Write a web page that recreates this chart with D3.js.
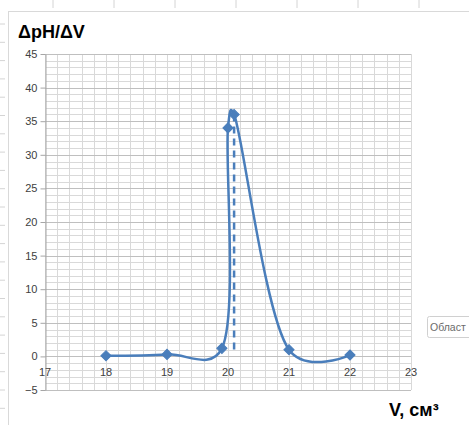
<!DOCTYPE html>
<html>
<head>
<meta charset="utf-8">
<script src="https://cdn.jsdelivr.net/npm/d3@7"></script>
<style>
  html, body { margin: 0; padding: 0; background: #fff; overflow: hidden; }
  svg { display: block; font-family: "Liberation Sans", Arial, sans-serif; }
</style>
</head>
<body>
<svg id="chart" width="469" height="425"></svg>
<script>
// data
const volumes = [18, 19, 19.9, 20, 20.1, 21, 22];
const dpHdV   = [0.1, 0.3, 1.2, 34, 36, 1, 0.2];
const xTicks  = [17, 18, 19, 20, 21, 22, 23];
const yTicks  = [-5, 0, 5, 10, 15, 20, 25, 30, 35, 40, 45];
const eqPoint = { v: 20.1, top: 36, bottom: 0.3 };

const svg = d3.select('#chart');
const W = 469, H = 425;
const m = { l: 45, r: 58, t: 54, b: 35 };

const x = d3.scaleLinear().domain([17, 23]).range([m.l, W - m.r]);
const y = d3.scaleLinear().domain([-5, 45]).range([H - m.b, m.t]);

const blue = '#4a7ebb';

// spreadsheet cells peeking out around the chart
const sheet = svg.append('g').attr('stroke', '#d4d4d4');
d3.range(53, W, 61).forEach(px => sheet.append('line')
  .attr('x1', px).attr('x2', px).attr('y1', 0).attr('y2', 8));
d3.range(24, H, 18.3).forEach(py => sheet.append('line')
  .attr('x1', 0).attr('x2', 5).attr('y1', py).attr('y2', py));

// chart area border
svg.append('rect')
  .attr('x', 8.5).attr('y', 11.5).attr('width', W + 20).attr('height', H + 20)
  .attr('fill', '#fff').attr('stroke', '#d9d9d9');

// minor grid
const grid = svg.append('g');
d3.range(17, 23.001, 0.2).forEach(v => grid.append('line')
  .attr('x1', Math.round(x(v)) + 0.5).attr('x2', Math.round(x(v)) + 0.5)
  .attr('y1', y(-5)).attr('y2', y(45))
  .attr('stroke', '#d9d9d9'));
d3.range(-5, 45.001, 1).forEach(v => grid.append('line')
  .attr('x1', x(17)).attr('x2', x(23))
  .attr('y1', Math.round(y(v)) + 0.5).attr('y2', Math.round(y(v)) + 0.5)
  .attr('stroke', v % 5 === 0 ? '#bfbfbf' : '#d9d9d9'));

// y axis
const yAxis = svg.append('g')
  .attr('transform', `translate(${m.l + 0.5},0)`)
  .call(d3.axisLeft(y).tickValues(yTicks).tickSize(5).tickSizeOuter(0).tickPadding(3));
yAxis.select('.domain').attr('stroke', '#a6a6a6');
yAxis.selectAll('.tick line').attr('stroke', '#a6a6a6');
yAxis.selectAll('text').attr('fill', '#404040').style('font-size', '11px');

// x tick labels sit under the zero line
svg.append('g').selectAll('text')
  .data(xTicks)
  .join('text')
    .attr('x', d => x(d))
    .attr('y', y(0) + 20)
    .attr('text-anchor', 'middle')
    .attr('fill', '#404040')
    .style('font-size', '11px')
    .text(d => d);

// smoothed curve
const pts = volumes.map((v, i) => [v, dpHdV[i]]);
const line = d3.line()
  .x(d => x(d[0]))
  .y(d => y(d[1]))
  .curve(d3.curveCatmullRom.alpha(0.25));

svg.append('path').datum(pts)
  .attr('fill', 'none').attr('stroke', blue)
  .attr('stroke-width', 2.5).attr('stroke-linejoin', 'round')
  .attr('d', line);

// equivalence point drop line
svg.append('line')
  .attr('x1', x(eqPoint.v)).attr('x2', x(eqPoint.v))
  .attr('y1', y(eqPoint.top)).attr('y2', y(eqPoint.bottom))
  .attr('stroke', blue).attr('stroke-width', 2.5)
  .attr('stroke-dasharray', '7,5');

// diamond markers
svg.append('g').selectAll('path')
  .data(pts)
  .join('path')
    .attr('transform', d => `translate(${x(d[0])},${y(d[1])}) rotate(45)`)
    .attr('d', 'M-3.6,-3.6H3.6V3.6H-3.6Z')
    .attr('fill', blue)
    .attr('stroke', blue).attr('stroke-width', 1);

// titles
svg.append('text')
  .attr('x', 18).attr('y', 38)
  .attr('font-weight', 'bold').style('font-size', '18px')
  .attr('fill', '#000')
  .text('ΔpH/ΔV');

svg.append('text')
  .attr('x', 389).attr('y', 416)
  .attr('font-weight', 'bold').style('font-size', '18px')
  .attr('fill', '#000')
  .text('V, см³');

// hover tooltip stub at the right edge
const tip = svg.append('g');
tip.append('rect')
  .attr('x', 427.5).attr('y', 316.5).attr('width', 60).attr('height', 21)
  .attr('rx', 2)
  .attr('fill', '#fff').attr('stroke', '#d0d0d0');
tip.append('text')
  .attr('x', 430).attr('y', 331)
  .attr('fill', '#6b6b6b').style('font-size', '10.5px')
  .text('Област');
</script>
</body>
</html>
